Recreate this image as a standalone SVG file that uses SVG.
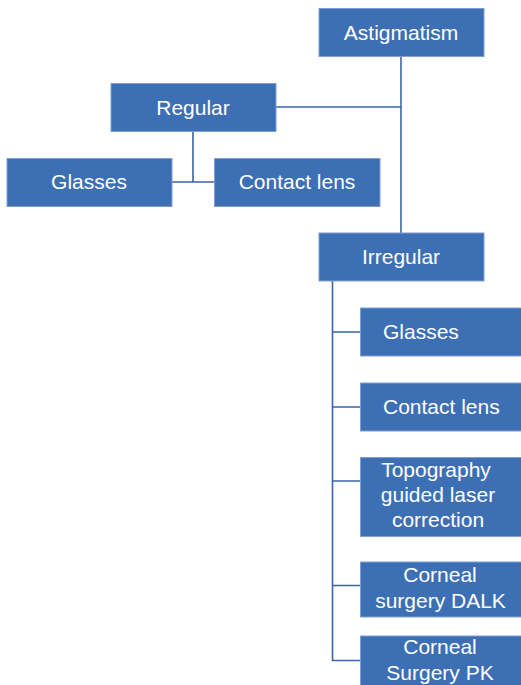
<svg xmlns="http://www.w3.org/2000/svg" width="521" height="685" viewBox="0 0 521 685">
<style>
.box{fill:#3d6fb5;stroke:#7f9fd0;stroke-width:1}
.t{font-family:"Liberation Sans",Arial,sans-serif;font-size:21px;fill:#ffffff;text-anchor:middle}
.ts{text-anchor:start}
.c{fill:none;stroke:#3a64a8;stroke-width:1.6}
</style>
<rect width="521" height="685" fill="#ffffff"/>
<g id="connectors">
<path class="c" d="M401 57V233"/>
<path class="c" d="M276 107H401"/>
<path class="c" d="M193 132V182M172 182H214"/>
<path class="c" d="M332.5 281V660.5H360"/>
<path class="c" d="M332.5 332H360M332.5 407H360M332.5 481H360M332.5 585.5H360"/>
</g>
<g id="astigmatism"><rect class="box" x="319" y="8.5" width="165" height="48"/><text class="t" x="401" y="39.5">Astigmatism</text></g>
<g id="regular"><rect class="box" x="111" y="83.5" width="165" height="48"/><text class="t" x="193" y="114.5">Regular</text></g>
<g id="reg-glasses"><rect class="box" x="7" y="158.5" width="165" height="48"/><text class="t" x="89" y="189">Glasses</text></g>
<g id="reg-contact"><rect class="box" x="214.5" y="158.5" width="165.5" height="48"/><text class="t" x="297" y="189">Contact lens</text></g>
<g id="irregular"><rect class="box" x="319" y="233" width="165" height="48"/><text class="t" x="401" y="264">Irregular</text></g>
<g id="irr-glasses"><rect class="box" x="360.5" y="308" width="170" height="48"/><text class="t ts" x="383" y="339">Glasses</text></g>
<g id="irr-contact"><rect class="box" x="360.5" y="383" width="170" height="48"/><text class="t ts" x="383" y="414">Contact lens</text></g>
<g id="topography"><rect class="box" x="360.5" y="457.5" width="170" height="79"/><text class="t" x="436" y="477">Topography</text><text class="t" x="438" y="502">guided laser</text><text class="t" x="438" y="527">correction</text></g>
<g id="dalk"><rect class="box" x="360.5" y="562" width="170" height="55"/><text class="t" x="440" y="582">Corneal</text><text class="t" x="440.5" y="607.5">surgery DALK</text></g>
<g id="pk"><rect class="box" x="360.5" y="636" width="170" height="60"/><text class="t" x="440" y="653.5">Corneal</text><text class="t" x="440" y="679.5">Surgery PK</text></g>
</svg>
